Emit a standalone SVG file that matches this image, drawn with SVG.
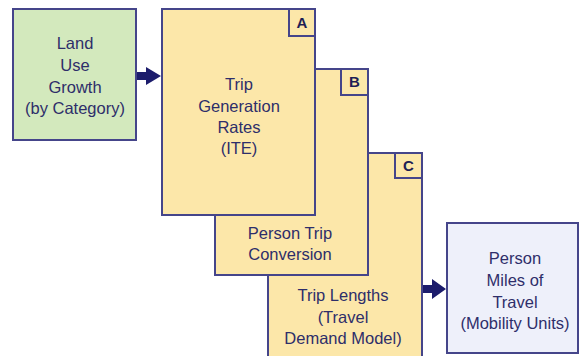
<svg xmlns="http://www.w3.org/2000/svg" width="579" height="356" viewBox="0 0 579 356">
  <defs>
    <style>
      .box { stroke: #45458a; stroke-width: 2; }
      .green { fill: #d3e9bd; }
      .yellow { fill: #fce7a9; }
      .blue { fill: #eef0fa; }
      .tag { fill: #fce7a9; stroke: #45458a; stroke-width: 2; }
      .lbl { font-family: "Liberation Sans", Arial, sans-serif; font-size: 16.5px; fill: #2e2e6a; text-anchor: middle; }
      .tagtxt { font-family: "Liberation Sans", Arial, sans-serif; font-size: 15px; font-weight: bold; fill: #1e1e55; text-anchor: middle; }
      .arrow { fill: #1c1c6c; }
    </style>
  </defs>
  <rect width="579" height="356" fill="#ffffff"/>

  <!-- stacked step sheets: C at back, A in front -->
  <g id="step-c">
    <rect class="box yellow" x="268" y="153" width="154" height="210"/>
    <rect class="tag" x="395" y="153" width="27" height="25"/>
    <text class="tagtxt" x="408.5" y="171">C</text>
    <text class="lbl" x="343" y="301">Trip Lengths</text>
    <text class="lbl" x="343" y="323">(Travel</text>
    <text class="lbl" x="343" y="344">Demand Model)</text>
  </g>

  <g id="step-b">
    <rect class="box yellow" x="215" y="69" width="153" height="206"/>
    <rect class="tag" x="341" y="69" width="27" height="26"/>
    <text class="tagtxt" x="354.5" y="87">B</text>
    <text class="lbl" x="290" y="239">Person Trip</text>
    <text class="lbl" x="290" y="260">Conversion</text>
  </g>

  <g id="step-a">
    <rect class="box yellow" x="162" y="9" width="153" height="206"/>
    <rect class="tag" x="289" y="9" width="26" height="27"/>
    <text class="tagtxt" x="302" y="28">A</text>
    <text class="lbl" x="239" y="90">Trip</text>
    <text class="lbl" x="239" y="112">Generation</text>
    <text class="lbl" x="239" y="133">Rates</text>
    <text class="lbl" x="239" y="154">(ITE)</text>
  </g>

  <g id="land-use">
    <rect class="box green" x="13" y="9" width="123" height="131"/>
    <text class="lbl" x="75" y="49">Land</text>
    <text class="lbl" x="75" y="71">Use</text>
    <text class="lbl" x="75" y="93">Growth</text>
    <text class="lbl" x="75" y="114">(by Category)</text>
  </g>

  <g id="pmt">
    <rect class="box blue" x="447" y="223" width="131" height="130"/>
    <text class="lbl" x="515" y="264">Person</text>
    <text class="lbl" x="515" y="286">Miles of</text>
    <text class="lbl" x="515" y="308">Travel</text>
    <text class="lbl" x="515" y="329">(Mobility Units)</text>
  </g>

  <g id="connectors">
    <polygon class="arrow" points="137,72 146,72 146,67 161,76 146,85 146,80 137,80"/>
    <polygon class="arrow" points="423,285 432,285 432,279 446,289 432,299 432,293 423,293"/>
  </g>
</svg>
